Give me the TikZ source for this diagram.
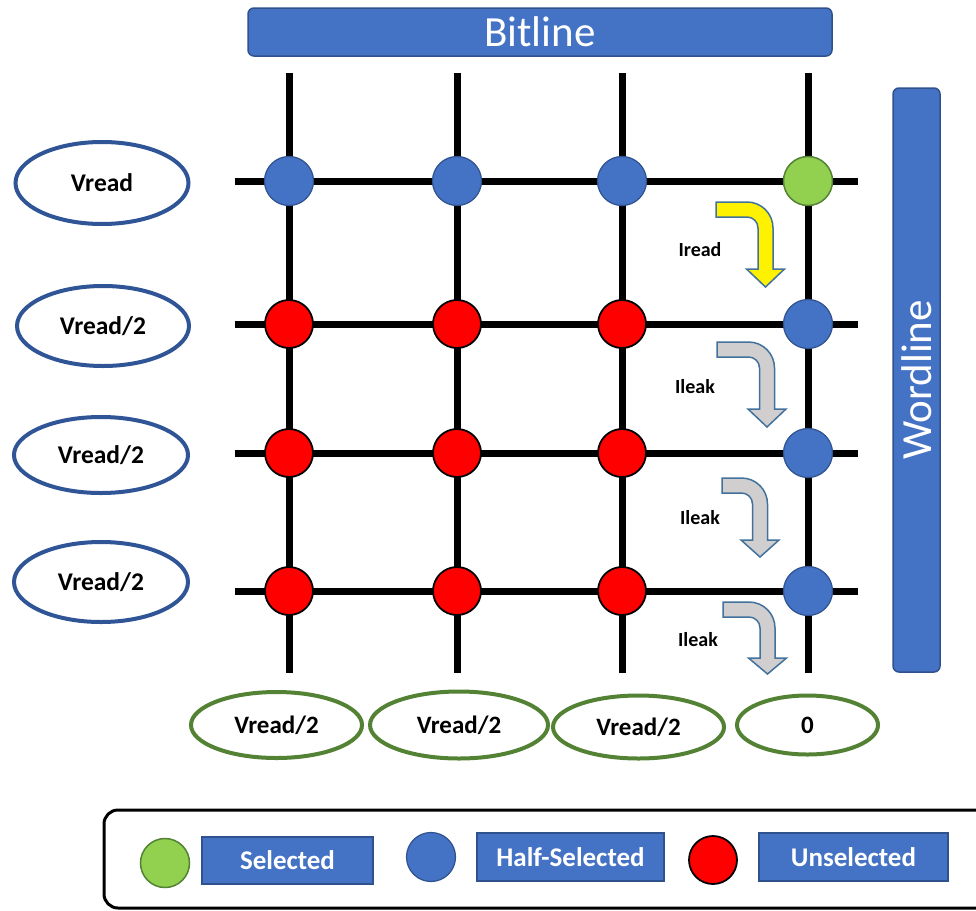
\documentclass[tikz,border=0pt]{standalone}
\usepackage{fontspec}
\setmainfont{Carlito}
\usetikzlibrary{shapes.geometric}

\definecolor{accblue}{HTML}{4472C4}
\definecolor{edgeblue}{HTML}{2F528F}
\definecolor{ovalblue}{HTML}{2F5597}
\definecolor{ovalgreen}{HTML}{548235}
\definecolor{selgreen}{HTML}{92D050}
\definecolor{leakgray}{HTML}{D0CECE}
\definecolor{arrowedge}{HTML}{41719C}

% bent current arrow: #1 fill, #2 tail x, #3 top y, #4 shaft centre x, #5 head base y, #6 tip y
\newcommand\bentarrow[6]{%
  \draw[draw=arrowedge, line width=1.5, fill=#1, line join=miter]
    (#2,#3) -- ({#4+7.5-26},#3)
    .. controls ({#4+7.5-11.6},#3) and ({#4+7.5},{#3+11.6}) .. ({#4+7.5},{#3+26})
    -- ({#4+7.5},#5) -- ({#4+19},#5) -- (#4,#6) -- ({#4-19},#5) -- ({#4-7.5},#5)
    -- ({#4-7.5},{#3+26})
    .. controls ({#4-7.5},{#3+19.9}) and ({#4-12.4},{#3+15}) .. ({#4-18.5},{#3+15})
    -- (#2,{#3+15}) -- cycle;}

\tikzset{
  wire/.style={line width=7, draw=black},
  halfcell/.style={circle, fill=accblue, draw=edgeblue, line width=1.2, minimum size=49, inner sep=0},
  selcell/.style={circle, fill=selgreen, draw=ovalgreen, line width=1.5, minimum size=49, inner sep=0},
  uncell/.style={circle, fill=red, draw=black, line width=1.8, minimum size=48, inner sep=0},
  leftoval/.style={ellipse, draw=ovalblue, line width=4, fill=white, inner sep=0,
    font=\bfseries\fontsize{25.5}{30}\selectfont},
  botoval/.style={ellipse, draw=ovalgreen, line width=4, fill=white, inner sep=0,
    font=\bfseries\fontsize{25}{30}\selectfont},
  bar/.style={rectangle, fill=accblue, draw=edgeblue, line width=1.5, rounded corners=6,
    inner sep=0, text=white, font=\fontsize{43}{50}\selectfont},
  tag/.style={rectangle, fill=accblue, draw=edgeblue, line width=1.5, inner sep=0,
    text=white, font=\bfseries\fontsize{27}{32}\selectfont},
  currentlabel/.style={inner sep=0, font=\bfseries\fontsize{20}{24}\selectfont},
}

\begin{document}
\begin{tikzpicture}[x=1pt, y=-1pt]
\useasboundingbox (0,0) rectangle (976,910);

% title bars
\node[bar, minimum width=584, minimum height=48] (bitline) at (540,32) {Bitline};
\node[bar, rotate=90, minimum width=584, minimum height=47] (wordline) at (916.5,380) {Wordline};

% bit line and word line ends
\foreach \i/\x in {1/289, 2/457, 3/622, 4/808} {
  \coordinate (bt\i) at (\x,73);
  \coordinate (bb\i) at (\x,673);
}
\foreach \j/\y in {1/181, 2/324, 3/453, 4/591} {
  \coordinate (wl\j) at (235,\y);
  \coordinate (wr\j) at (858,\y);
}
\foreach \i in {1,...,4} {
  \draw[wire] (bt\i) -- (bb\i);
  \draw[wire] (wl\i) -- (wr\i);
}

% crossbar cells
\node[halfcell] (c11) at (289,181) {};
\node[halfcell] (c12) at (457,181) {};
\node[halfcell] (c13) at (622,181) {};
\node[selcell]  (c14) at (808,181) {};
\foreach \j/\y in {2/324, 3/453, 4/591} {
  \node[uncell] (c\j1) at (289,\y) {};
  \node[uncell] (c\j2) at (457,\y) {};
  \node[uncell] (c\j3) at (622,\y) {};
  \node[halfcell] (c\j4) at (808,\y) {};
}

% word line voltages
\node[leftoval, minimum width=173, minimum height=82] (v1) at (102,183) {Vread};
\node[leftoval, minimum width=172, minimum height=80] (v2) at (103,326) {Vread/2};
\node[leftoval, minimum width=174, minimum height=76] (v3) at (101,455) {Vread/2};
\node[leftoval, minimum width=174, minimum height=80] (v4) at (101,582) {Vread/2};

% bit line voltages
\node[botoval, minimum width=171, minimum height=66] (b1) at (276.5,725) {Vread/2};
\node[botoval, minimum width=178, minimum height=67] (b2) at (459,725) {Vread/2};
\node[botoval, minimum width=171, minimum height=63] (b3) at (638.5,727) {Vread/2};
\node[botoval, minimum width=141, minimum height=59] (b4) at (807.5,725) {0};

% read and leakage currents
\bentarrow{yellow}{716}{202}{765.5}{269}{287}
\bentarrow{leakgray}{717}{342}{767}{409}{427}
\bentarrow{leakgray}{722}{478}{760}{540}{557}
\bentarrow{leakgray}{723}{602}{767.5}{658}{674}
\node[currentlabel] (iread) at (700,250) {Iread};
\node[currentlabel] (ileak1) at (695,387) {Ileak};
\node[currentlabel] (ileak2) at (700,518) {Ileak};
\node[currentlabel] (ileak3) at (698,640) {Ileak};

% legend
\draw[line width=3, rounded corners=14] (104,810) rectangle (995,908);
\node[selcell]  (ksel)  at (165,863) {};
\node[tag, minimum width=171, minimum height=47] (tsel) at (287.5,860.5) {Selected};
\node[halfcell] (khalf) at (431,857) {};
\node[tag, minimum width=187, minimum height=48] (thalf) at (570.5,857) {Half-Selected};
\node[uncell]   (kun)   at (713,860) {};
\node[tag, minimum width=189, minimum height=48] (tun) at (853.5,857) {Unselected};
\end{tikzpicture}
\end{document}
